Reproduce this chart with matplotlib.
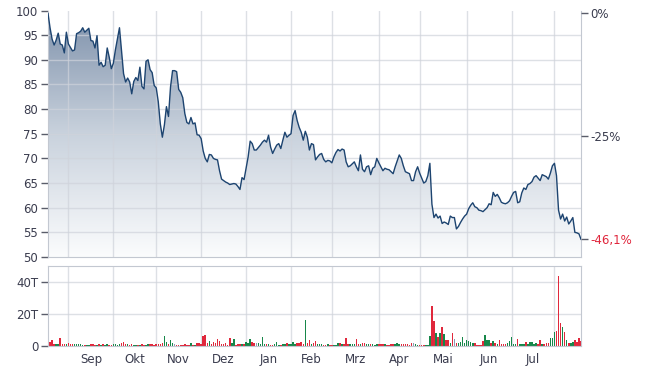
import numpy as np
import pandas as pd
import matplotlib
matplotlib.use("Agg")
import matplotlib.pyplot as plt
from matplotlib.colors import LinearSegmentedColormap

plt.rcParams["font.family"] = ["DejaVu Sans"]

# trading range (one value per weekday)
start_date = "2022-08-18"
end_date = "2023-08-18"

# daily close
price = [
    99.4, 96.5, 94.2, 93.0, 94.0, 95.4, 93.2, 93.0, 91.4, 95.6,
    93.2, 92.5, 91.8, 92.0, 95.3, 95.5, 95.8, 96.5, 95.6, 96.0,
    96.4, 93.9, 93.8, 92.4, 94.9, 88.9, 89.5, 88.6, 88.9, 92.4,
    90.5, 88.2, 89.3, 92.0, 94.3, 96.5, 91.9, 87.2, 85.5, 86.3,
    85.5, 83.1, 85.6, 86.4, 85.8, 88.5, 84.6, 84.1, 89.7, 90.0,
    88.0, 87.4, 84.8, 84.3, 81.5, 77.0, 74.3, 76.8, 80.5, 78.5,
    84.5, 87.8, 87.8, 87.6, 84.0, 83.4, 82.3, 79.1, 77.3, 77.0,
    78.3, 77.0, 77.2, 74.8, 74.7, 74.0, 71.5, 70.0, 69.3, 70.8,
    70.7, 70.0, 69.8, 69.7, 67.5, 65.8, 65.5, 65.2, 65.0, 64.7,
    64.8, 64.9, 64.8, 64.3, 63.7, 66.1, 65.7, 68.0, 70.3, 73.5,
    73.0, 71.7, 71.7, 72.2, 72.7, 73.3, 73.7, 73.3, 74.7, 72.3,
    71.0, 71.9, 72.7, 73.0, 72.0, 73.7, 75.3, 74.3, 74.7, 75.0,
    78.7, 79.7, 77.7, 76.3, 75.3, 73.7, 75.5, 74.3, 71.7, 73.0,
    72.8, 69.7, 70.3, 70.8, 71.0, 69.8, 69.3, 69.6, 69.5, 69.1,
    70.3, 71.2, 71.8, 71.5, 71.9, 71.7, 69.3, 68.3, 68.5, 68.9,
    69.3, 68.3, 67.5, 70.7, 67.8, 67.3, 68.3, 68.5, 66.7, 68.0,
    68.3, 70.0, 69.1, 68.3, 67.5, 68.0, 67.8, 67.7, 67.3, 66.9,
    68.3, 69.5, 70.7, 70.0, 68.5, 67.3, 67.1, 66.9, 65.5, 65.5,
    67.3, 68.3, 67.0, 66.0, 65.0, 65.3, 66.5, 69.0, 60.7, 58.0,
    58.7, 57.9, 58.3, 56.8, 57.1, 56.9, 56.6, 58.3, 58.0, 58.0,
    55.7, 56.2, 57.0, 57.7, 58.3, 58.7, 59.8, 60.5, 61.0, 60.2,
    60.0, 59.5, 59.4, 59.2, 59.6, 60.0, 60.8, 60.6, 63.1, 62.3,
    62.7, 62.0, 61.1, 60.9, 60.8, 61.0, 61.4, 62.3, 63.1, 63.3,
    61.0, 61.2, 63.0, 64.0, 63.7, 64.7, 64.9, 65.3, 66.2, 66.5,
    66.0, 65.5, 66.7, 66.5, 66.3, 65.8, 67.0, 68.5, 69.0, 66.5,
    59.5, 57.7, 58.7, 57.3, 58.1, 56.7, 57.3, 58.0, 55.0, 54.9,
    54.7, 53.6,
]

# daily volume in thousands (T)
volume = [
    0.8, 2.5, 3.8, 1.0, 0.8, 1.0, 4.7, 1.0, 0.8, 1.0,
    1.5, 1.0, 0.8, 1.0, 0.8, 0.9, 1.0, 0.6, 0.5, 0.7,
    0.6, 1.0, 1.1, 0.6, 0.5, 0.8, 0.7, 0.9, 0.6, 0.8,
    0.7, 0.6, 0.8, 0.9, 0.7, 0.8, 2.0, 2.5, 1.0, 0.8,
    0.5, 0.8, 0.6, 0.5, 0.7, 0.6, 0.8, 0.5, 0.7, 1.0,
    1.0, 0.9, 0.7, 0.8, 0.9, 1.0, 2.0, 6.0, 2.5, 1.0,
    3.5, 1.5, 0.8, 0.5, 0.7, 0.4, 0.6, 0.8, 0.5, 0.6,
    1.5, 0.4, 0.6, 1.5, 1.5, 1.2, 6.0, 6.5, 1.5, 3.0,
    1.2, 2.5, 1.5, 4.5, 3.0, 1.0, 0.8, 2.0, 0.6, 5.0,
    2.0, 4.0, 0.5, 0.8, 1.0, 1.0, 1.2, 2.5, 1.5, 4.5,
    2.5, 1.5, 2.0, 2.0, 1.0, 5.5, 1.0, 0.8, 1.0, 0.6,
    0.5, 0.8, 2.5, 0.6, 0.5, 1.0, 0.8, 2.0, 0.8, 1.0,
    2.5, 0.8, 1.5, 1.5, 2.5, 1.0, 16.0, 2.0, 3.5, 1.0,
    2.0, 3.0, 1.0, 0.8, 1.0, 0.6, 0.5, 0.8, 0.6, 0.5,
    0.7, 0.6, 1.5, 1.5, 1.0, 0.8, 5.0, 1.0, 1.2, 0.8,
    1.0, 4.0, 1.0, 1.2, 2.0, 2.0, 0.8, 1.0, 1.2, 0.8,
    0.6, 1.0, 1.0, 0.8, 1.2, 0.8, 0.4, 0.5, 1.0, 1.0,
    1.0, 1.5, 1.0, 1.0, 1.0, 0.8, 1.0, 0.6, 2.0, 2.0,
    1.0, 0.5, 0.4, 0.3, 0.4, 0.3, 0.5, 6.0, 25.0, 15.5,
    8.0, 5.5, 8.0, 12.0, 7.5, 3.5, 3.5, 2.0, 8.0, 4.0,
    1.5, 2.0, 2.5, 5.5, 2.0, 3.5, 3.0, 2.5, 2.0, 2.0,
    0.5, 0.4, 0.6, 3.0, 6.5, 3.5, 3.5, 2.0, 3.0, 2.0,
    1.0, 3.5, 1.0, 1.0, 1.0, 2.0, 3.0, 5.5, 1.0, 1.0,
    4.5, 1.0, 1.0, 0.8, 2.5, 1.0, 2.5, 2.5, 1.0, 2.0,
    1.0, 3.5, 1.0, 1.0, 2.0, 2.0, 5.0, 5.0, 8.5, 9.0,
    44.0, 14.0, 11.5, 8.5, 3.5, 2.0, 1.5, 2.5, 3.5, 2.5,
    5.0, 3.0,
]

month_labels = ["Sep", "Okt", "Nov", "Dez", "Jan", "Feb", "Mrz", "Apr", "Mai", "Jun", "Jul"]
price_ticks = [50, 55, 60, 65, 70, 75, 80, 85, 90, 95, 100]
pct_ticks = [0, -25]
vol_ticks = [0, 20, 40]
vol_tick_labels = ["0", "20T", "40T"]

dates = pd.bdate_range(start_date, end_date)
x = np.arange(len(dates))
price = np.array(price)
volume = np.array(volume)

# month starts (gridlines) and label positions (mid month)
month_start = [i for i in range(1, len(dates)) if dates[i].month != dates[i - 1].month]
month_mid = [(a + b) / 2 for a, b in zip(month_start[:-1], month_start[1:])]

TXT = "#3a3c4e"
GRID = "#cfd3db"
SPINE = "#c3c8d1"
LINE = "#1d4470"

fig = plt.figure(figsize=(6.5, 3.7), dpi=100)
ax = fig.add_axes([48 / 650, 1 - 257 / 370, 533 / 650, 246.5 / 370])
axv = fig.add_axes([48 / 650, 1 - 345.7 / 370, 533 / 650, 79.7 / 370])

# --- price panel
cmap = LinearSegmentedColormap.from_list("fade", ["#fbfcfd", "#c9d2dd", "#7d90aa"])
fill = ax.fill_between(x, price, 50, facecolor="none", edgecolor="none")
grad = np.linspace(1, 0, 256).reshape(-1, 1)
im = ax.imshow(grad, cmap=cmap, extent=[x[0], x[-1], 50, 100], aspect="auto",
               origin="upper", zorder=1)
im.set_clip_path(fill.get_paths()[0], transform=ax.transData)

for t in price_ticks[1:-1]:
    ax.axhline(t, color=GRID, lw=1, alpha=0.7, zorder=2)
for m in month_start:
    ax.axvline(m, color=GRID, lw=1, alpha=0.7, zorder=2)
ax.plot(x, price, color=LINE, lw=1.0, zorder=3)

ax.set_xlim(x[0], x[-1])
ax.set_ylim(50, 100)
ax.set_yticks(price_ticks)
ax.set_yticklabels([str(t) for t in price_ticks])
ax.set_xticks([])
ax.tick_params(axis="y", length=5, width=1, color="#5a5d6a", labelsize=8.5,
               labelcolor=TXT, pad=2)
ax.spines["top"].set_visible(False)
for s in ["left", "right", "bottom"]:
    ax.spines[s].set_color(SPINE)

# percent axis
p0 = price[0]
last_pct = (price[-1] / p0 - 1) * 100
axr = ax.twinx()
axr.set_ylim((50 / p0 - 1) * 100, (100 / p0 - 1) * 100)
axr.set_yticks(pct_ticks + [last_pct])
axr.set_yticklabels([f"{t}%" for t in pct_ticks] +
                    [f"{last_pct:.1f}".replace(".", ",") + "%"])
axr.tick_params(axis="y", length=5, width=1, color="#5a5d6a", labelsize=8.5,
                labelcolor=TXT, pad=2)
axr.get_yticklabels()[-1].set_color("#e0263c")
for s in axr.spines.values():
    s.set_visible(False)

# --- volume panel
chg = np.diff(price, prepend=price[0])
colors = np.where(chg > 0, "#17874a", np.where(chg < 0, "#e0283c", "#8d9bb6"))
for t in vol_ticks[1:]:
    axv.axhline(t, color=GRID, lw=1, alpha=0.7, zorder=0)
for m in month_start:
    axv.axvline(m, color=GRID, lw=1, alpha=0.7, zorder=0)
axv.bar(x, volume, width=0.75, color=colors, zorder=2)
axv.set_xlim(x[0], x[-1])
axv.set_ylim(0, 50)
axv.set_yticks(vol_ticks)
axv.set_yticklabels(vol_tick_labels)
axv.set_xticks(month_start)
axv.set_xticklabels([])
axv.set_xticks(month_mid, minor=True)
axv.set_xticklabels(month_labels, minor=True)
axv.tick_params(axis="x", which="both", length=0, labelsize=8.5, labelcolor=TXT, pad=5)
axv.tick_params(axis="y", length=5, width=1, color="#5a5d6a", labelsize=8.5,
                labelcolor=TXT, pad=2)
for s in axv.spines.values():
    s.set_color(SPINE)

fig.savefig("out.png", dpi=100)
